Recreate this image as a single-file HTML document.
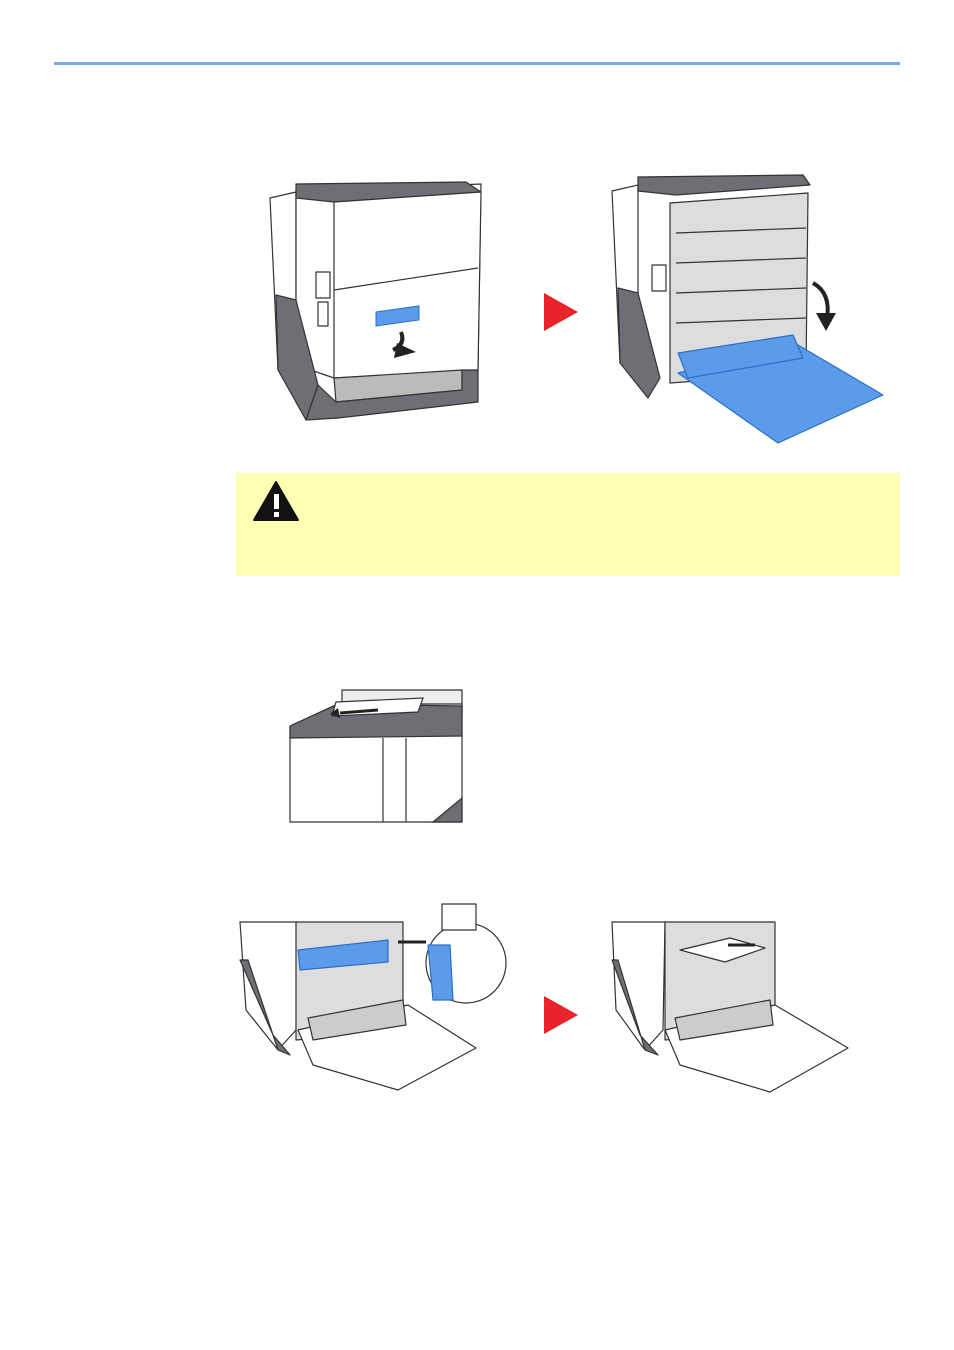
<!DOCTYPE html>
<html><head><meta charset="utf-8"><style>
html,body{margin:0;padding:0;background:#fff;}
body{width:954px;height:1350px;position:relative;overflow:hidden;font-family:"Liberation Sans",sans-serif;}
.abs{position:absolute;}
</style></head><body>
<div class="abs" style="left:54px;top:62px;width:846px;height:3px;background:#7aa6f2;"></div>

<svg class="abs" style="left:266px;top:180px" width="220" height="245" viewBox="0 0 220 245">
<g stroke="#333" stroke-width="1.2" fill="#fff" stroke-linejoin="round">
<polygon points="4,18 30,12 30,185 12,190"/>
<polygon points="30,12 215,4 212,190 68,198 30,185" fill="#fff"/>
<polygon points="30,4 200,2 215,12 68,22 30,18" fill="#6e6e74"/>
<polygon points="68,22 215,12 212,190 68,198"/>
<polygon points="10,115 30,120 52,205 40,240 12,190" fill="#6e6e74"/>
<polygon points="68,198 196,190 196,210 70,222" fill="#bbb"/>
<polygon points="52,205 70,222 196,210 196,190 212,190 212,222 72,238 40,240" fill="#6e6e74"/>
<line x1="68" y1="110" x2="212" y2="88"/>
<rect x="50" y="92" width="14" height="26"/>
<rect x="52" y="122" width="10" height="24"/>
</g>
<polygon points="110,132 153,126 153,140 110,146" fill="#5b9bea" stroke="#2a6fc4"/>
<path d="M135,152 q5,12 -8,18" stroke="#222" stroke-width="4" fill="none"/>
<polygon points="131,163 150,172 128,178" fill="#222"/>
</svg>

<svg class="abs" style="left:544px;top:293px" width="35" height="39"><polygon points="0,0 34,19 0,38" fill="#e8232a"/></svg>
<svg class="abs" style="left:544px;top:996px" width="35" height="39"><polygon points="0,0 34,19 0,38" fill="#e8232a"/></svg>

<svg class="abs" style="left:608px;top:173px" width="280" height="272" viewBox="0 0 280 272">
<g stroke="#333" stroke-width="1.2" fill="#fff" stroke-linejoin="round">
<polygon points="4,18 30,12 30,185 12,190"/>
<polygon points="30,4 195,2 202,12 68,22 30,18" fill="#6e6e74"/>
<polygon points="62,30 200,20 198,200 62,210" fill="#ddd"/>
<polygon points="10,115 30,120 52,205 40,225 12,190" fill="#6e6e74"/>
<line x1="68" y1="60" x2="198" y2="55"/><line x1="68" y1="90" x2="198" y2="85"/>
<line x1="68" y1="120" x2="198" y2="115"/><line x1="68" y1="150" x2="198" y2="145"/>
<rect x="44" y="92" width="14" height="26"/>
<polygon points="70,200 190,172 275,222 170,270" fill="#5b9bea" stroke="#2a6fc4"/>
<polygon points="70,180 185,162 195,185 80,205" fill="#5b9bea" stroke="#2a6fc4"/>
</g>
<path d="M205,110 q18,10 14,35" stroke="#222" stroke-width="4" fill="none"/>
<polygon points="208,140 228,140 218,158" fill="#222"/>
</svg>

<div class="abs" style="left:236px;top:473px;width:664px;height:103px;background:#ffffb4;"></div>
<svg class="abs" style="left:253px;top:480px" width="47" height="42"><polygon points="23,2 45,40 1,40" fill="#111" stroke="#111" stroke-linejoin="round" stroke-width="2"/><rect x="21" y="14" width="5" height="15" fill="#fff"/><rect x="21" y="32" width="5" height="5" fill="#fff"/></svg>

<svg class="abs" style="left:278px;top:686px" width="188" height="138" viewBox="0 0 188 138">
<g stroke="#333" stroke-width="1.2" fill="#fff">
<polygon points="64,4 184,4 184,30 64,30" fill="#eee"/>
<polygon points="12,40 60,18 184,18 184,136 12,136"/>
<polygon points="12,40 60,18 184,20 184,50 12,52" fill="#6e6e74"/>
<line x1="105" y1="52" x2="105" y2="136"/><line x1="128" y1="52" x2="128" y2="136"/>
<polygon points="58,16 145,12 140,26 54,30" fill="#fff"/>
<polygon points="155,136 184,112 184,136" fill="#6e6e74"/>
</g>
<path d="M100,24 L62,27" stroke="#222" stroke-width="3"/><polygon points="60,22 52,28 62,32" fill="#222"/>
</svg>

<svg class="abs" style="left:238px;top:900px" width="272" height="195" viewBox="0 0 272 195">
<g stroke="#333" stroke-width="1.2" fill="#fff" stroke-linejoin="round">
<polygon points="2,22 60,22 58,130 40,150 8,110"/>
<polygon points="2,60 10,60 40,150 52,155 35,135" fill="#6e6e74"/>
<polygon points="58,22 165,22 165,130 58,140" fill="#ddd"/>
<polygon points="60,50 150,40 150,62 62,70" fill="#5b9bea" stroke="#2a6fc4"/>
<polygon points="60,130 170,105 238,148 160,190 75,165"/>
<polygon points="70,118 165,100 168,125 75,140" fill="#ccc"/>
<circle cx="228" cy="63" r="40"/>
<rect x="204" y="4" width="34" height="26"/>
<polygon points="190,45 212,45 215,100 195,100" fill="#5b9bea" stroke="#2a6fc4"/>
</g>
<path d="M188,42 L160,42" stroke="#222" stroke-width="3"/>
</svg>

<svg class="abs" style="left:610px;top:920px" width="240" height="175" viewBox="0 0 240 175">
<g stroke="#333" stroke-width="1.2" fill="#fff" stroke-linejoin="round">
<polygon points="2,2 55,2 53,110 35,130 6,90"/>
<polygon points="2,40 8,40 35,130 48,135 30,115" fill="#6e6e74"/>
<polygon points="55,2 165,2 165,110 55,120" fill="#ddd"/>
<polygon points="70,30 120,18 155,28 115,42" fill="#fff"/>
<polygon points="55,110 165,85 238,128 160,172 70,145"/>
<polygon points="65,98 160,80 163,105 70,120" fill="#ccc"/>
</g>
<path d="M118,25 L145,25" stroke="#222" stroke-width="3"/>
</svg>
</body></html>
